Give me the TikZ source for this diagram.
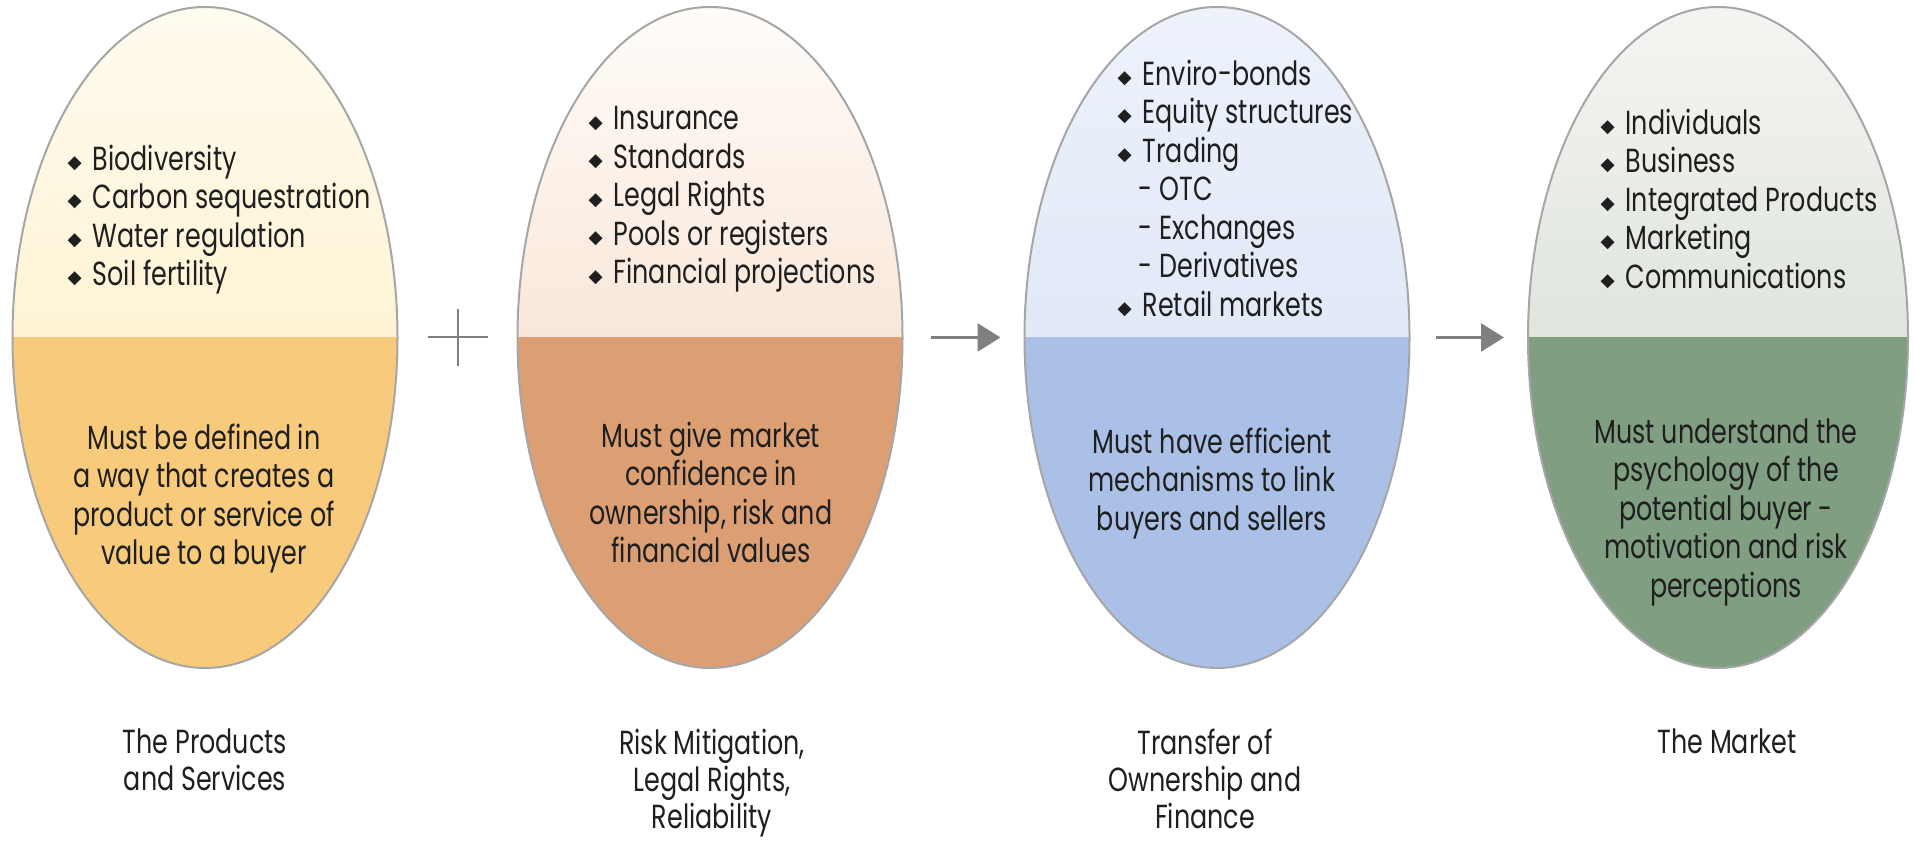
\documentclass[tikz,border=0pt]{standalone}
\usepackage{fontspec}
\usepackage{graphicx}
\setmainfont{Poppins}[FakeStretch=0.76]
\newfontfamily\symfont{DejaVu Sans}
\usetikzlibrary{shapes.geometric, arrows.meta, positioning, calc}

\definecolor{prodtop}{HTML}{FFFBEF}
\definecolor{prodmid}{HTML}{FCEBB9}
\definecolor{prodlow}{HTML}{F7CA7C}
\definecolor{risktop}{HTML}{FFFCF9}
\definecolor{riskmid}{HTML}{F3D2BA}
\definecolor{risklow}{HTML}{DC9F74}
\definecolor{transtop}{HTML}{EDF2FB}
\definecolor{transmid}{HTML}{D5DFF3}
\definecolor{translow}{HTML}{AAC0E7}
\definecolor{markettop}{HTML}{F4F5F2}
\definecolor{marketmid}{HTML}{CBD4C8}
\definecolor{marketlow}{HTML}{809E82}
\definecolor{eggline}{HTML}{A6A6A6}
\definecolor{arrowgray}{HTML}{808080}
\definecolor{textdark}{HTML}{1F1F1F}

\newcommand{\bul}{\makebox[2.5mm][l]{\symfont\raisebox{0.1ex}{\scalebox{0.55}{◆}}}}

\tikzset{
  egg/.style n args={3}{ellipse, draw=eggline, line width=0.2mm,
    minimum width=38.5mm, minimum height=66.1mm, inner sep=0pt,
    path picture={
      \shade[top color=#1, bottom color=#2] (path picture bounding box.north west) rectangle (path picture bounding box.east);
      \fill[#3] (path picture bounding box.west) rectangle (path picture bounding box.south east);
    }},
  list/.style={anchor=north west, align=left, inner sep=0pt},
  note/.style={anchor=north, align=center, inner sep=0pt},
  caption/.style={align=center, inner sep=0pt, font=\fontsize{9.5}{10.6}\selectfont},
  flow/.style={draw=arrowgray, line width=0.3mm, -{Triangle[length=2.3mm, width=2.8mm]}},
  plusline/.style={draw=arrowgray, line width=0.2mm}
}

\begin{document}
\begin{tikzpicture}[x=1mm, y=1mm, font=\fontsize{9.5}{10.95}\selectfont, text=textdark]
        \useasboundingbox (0,0) rectangle (191.4,84.1);
        % the four stages
        \node[egg={prodtop}{prodmid}{prodlow}] (prod) at (20.5,50.35) {};
        \node[egg={risktop}{riskmid}{risklow}] (risk) at (71.0,50.35) {};
        \node[egg={transtop}{transmid}{translow}] (trans) at (121.7,50.35) {};
        \node[egg={markettop}{marketmid}{marketlow}, minimum width=38.0mm] (market) at (171.8,50.35) {};
        % lists in the upper halves
        \node[list] (prodlist) at (6.7,69.7) {\bul Biodiversity\\ \bul Carbon sequestration\\ \bul Water regulation\\ \bul Soil fertility};
        \node[list] (risklist) at (58.8,73.5) {\bul Insurance\\ \bul Standards\\ \bul Legal Rights\\ \bul Pools or registers\\ \bul Financial projections};
        \node[list] (translist) at (111.7,78.2) {\bul Enviro-bonds\\ \bul Equity structures\\ \bul Trading\\ \hspace{2.1mm}- OTC\\ \hspace{2.1mm}- Exchanges\\ \hspace{2.1mm}- Derivatives\\ \bul Retail markets};
        \node[list] (marketlist) at (160.0,73.3) {\bul Individuals\\ \bul Business\\ \bul Integrated Products\\ \bul Marketing\\ \bul Communications};
        % notes in the lower halves
        \node[note] (prodnote) at (20.4,41.8) {Must be defined in\\ a way that creates a\\ product or service of\\ value to a buyer};
        \node[note] (risknote) at (71.1,42.0) {Must give market\\ confidence in\\ ownership, risk and\\ financial values};
        \node[note] (transnote) at (121.2,41.4) {Must have efficient\\ mechanisms to link\\ buyers and sellers};
        \node[note] (marketnote) at (172.6,42.3) {Must understand the\\ psychology of the\\ potential buyer -\\ motivation and risk\\ perceptions};
        % captions
        \node[caption, below=5.9mm of prod] (prodcap) {The Products\\ and Services};
        \node[caption, below=5.9mm of risk, xshift=0.2mm] (riskcap) {Risk Mitigation,\\ Legal Rights,\\ Reliability};
        \node[caption, below=5.9mm of trans, xshift=-1.2mm] (transcap) {Transfer of\\ Ownership and\\ Finance};
        \node[caption, below=5.9mm of market, xshift=0.9mm] (marketcap) {The Market};
        % plus and arrows
        \coordinate (plus) at ($(prod.east)!0.5!(risk.west)$);
        \draw[plusline] ([xshift=-3mm]plus) -- ([xshift=3mm]plus);
        \draw[plusline] ([yshift=-2.85mm]plus) -- ([yshift=2.85mm]plus);
        \draw[flow] ([xshift=2.7mm]risk.east) -- ([xshift=-2.3mm]trans.west);
        \draw[flow] ([xshift=2.5mm]trans.east) -- ([xshift=-2.3mm]market.west);
        \end{tikzpicture}
\end{document}
